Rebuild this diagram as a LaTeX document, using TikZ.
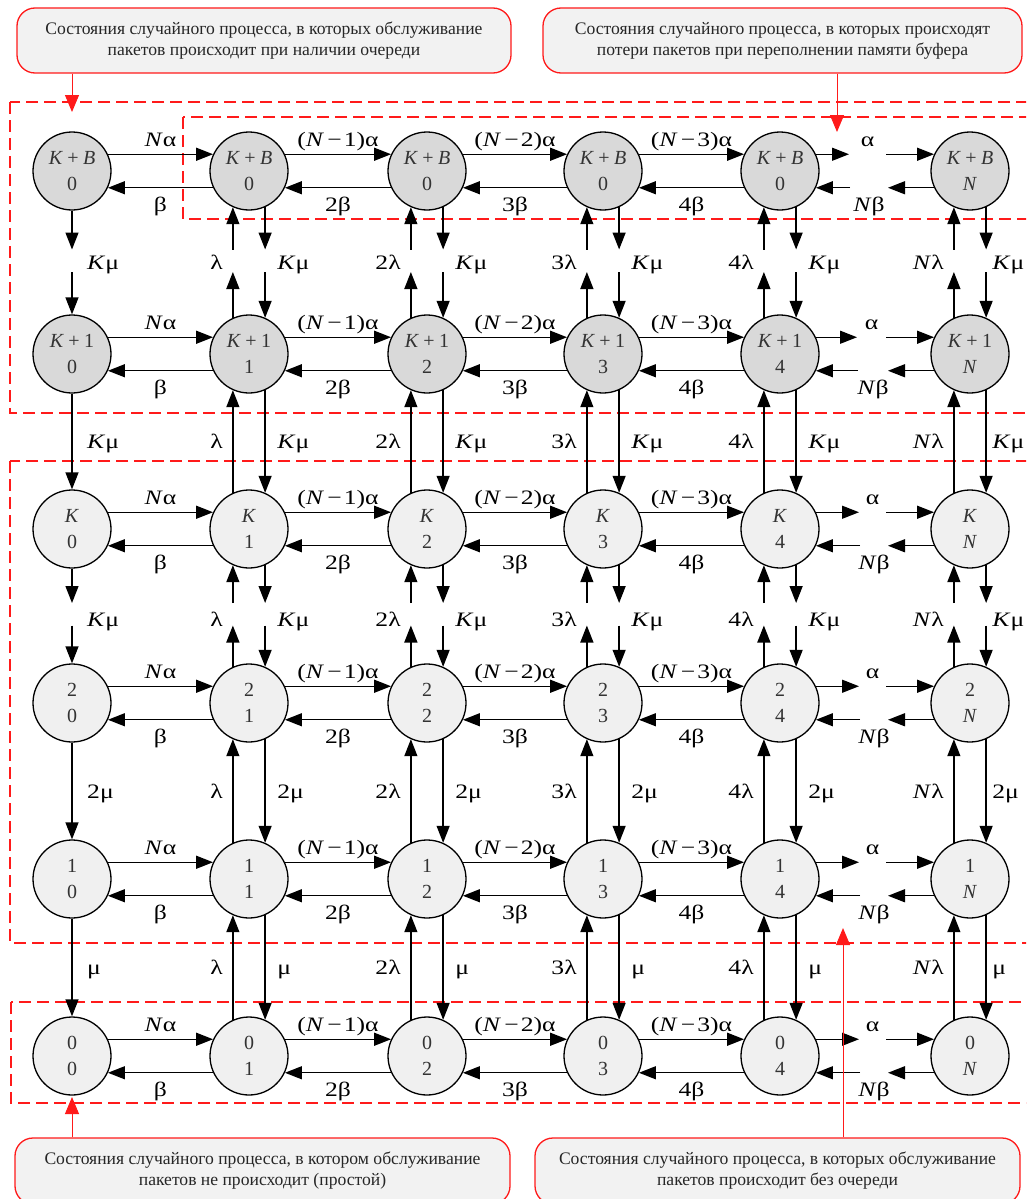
\documentclass[tikz,border=0pt]{standalone}
\usepackage{fontspec}
\setmainfont{Liberation Serif}
\newfontfamily\labfont{Liberation Serif}[FakeStretch=1.25]
\usetikzlibrary{arrows.meta,calc}
\definecolor{darkfill}{HTML}{D9D9D9}
\definecolor{lightfill}{HTML}{F0F0F0}
\definecolor{callfill}{HTML}{F2F2F2}
\definecolor{redline}{HTML}{FF1A1A}
\begin{document}
\begin{tikzpicture}[x=1pt,y=-1pt,
  state/.style={circle,draw=black,line width=1.3pt,minimum size=78pt,inner sep=0pt,align=center,font=\fontsize{20}{26}\selectfont,text=black!80},
  dstate/.style={state,fill=darkfill},
  lstate/.style={state,fill=lightfill},
  arr/.style={line width=1.35pt,-{Triangle[length=17pt,width=13pt]}},
  elab/.style={font=\labfont\fontsize{20.5}{22}\selectfont,inner sep=0pt},
  redbox/.style={draw=redline,line width=1.3pt,dash pattern=on 12pt off 6pt},
  callout/.style={draw=redline,line width=1.3pt,fill=callfill,rounded corners=18pt,align=center,font=\fontsize{17.6}{21}\selectfont,text=black!85,inner sep=0pt},
  redarr/.style={draw=redline,line width=1pt,-{Triangle[length=17pt,width=14pt]},fill=redline}
]
\useasboundingbox (0,0) rectangle (1026,1199);
\clip (0,0) rectangle (1026,1199);

% dashed groups
\draw[redbox] (10,102) rectangle (1045,413);
\draw[redbox] (183,117) rectangle (1045,219);
\draw[redbox] (10,461) rectangle (1045,943);
\draw[redbox] (11,1002) rectangle (1045,1103);

% states
\foreach \ri/\yy/\sty/\ta in {1/171/dstate/{\textit{K}\hspace{.22em}+\hspace{.22em}\textit{B}},2/354/dstate/{\textit{K}\hspace{.22em}+\hspace{.22em}1},3/529/lstate/{\textit{K}},4/703/lstate/2,5/879/lstate/1,6/1056/lstate/0}{
  \foreach \ci/\xx/\bb in {0/72/0,1/249/1,2/427/2,3/603/3,4/780/4,5/970/{\textit{N}}}{
    \node[\sty] (n\ri\ci) at (\xx,\yy) {\ta\\\ifnum\ri=1 \ifnum\ci<5 0\else\bb\fi\else\bb\fi};
  }
}

% horizontal transitions
\foreach \ri/\gl in {1/849,2/857,3/859,4/859,5/859,6/859}{
  \foreach \ci/\di/\tl/\bl in {0/1/{\textit{N}α}/β,1/2/{(\textit{N}\hspace{.15em}−\hspace{.1em}1)α}/2β,2/3/{(\textit{N}\hspace{.15em}−\hspace{.1em}2)α}/3β,3/4/{(\textit{N}\hspace{.15em}−\hspace{.1em}3)α}/4β}{
    \draw[arr] (n\ri\ci.25) -- node[elab,midway,anchor=base,yshift=8pt] (ta\ri\ci) {\tl} (n\ri\di.155);
    \draw[arr] (n\ri\di.205) -- node[elab,midway,anchor=base,yshift=-24pt] (tb\ri\ci) {\bl} (n\ri\ci.-25);
  }
  \coordinate (gl\ri) at (\gl,0);
  \coordinate (gr\ri) at (886,0);
  \coordinate (hl\ri) at (\gl+1,0);
  \coordinate (hr\ri) at (888,0);
  \draw[arr] (n\ri4.25) -- (n\ri4.25 -| gl\ri);
  \draw[arr] (n\ri5.155 -| gr\ri) -- (n\ri5.155);
  \draw[arr] (n\ri5.205) -- (n\ri5.205 -| hr\ri);
  \draw[arr] (n\ri4.-25 -| hl\ri) -- (n\ri4.-25);
  \node[elab,anchor=base] (ta\ri4) at ($(n\ri4.25 -| gl\ri)!0.5!(n\ri5.155 -| gr\ri)+(0,-8)$) {α};
  \node[elab,anchor=base] (tb\ri4) at ($(n\ri4.-25 -| hl\ri)!0.5!(n\ri5.205 -| hr\ri)+(0,24)$) {\textit{N}β};
}

% vertical transitions
\foreach \ri/\si/\dl/\brk/\ls in {1/2/{\textit{K}μ}/1/7,2/3/{\textit{K}μ}/0/7,3/4/{\textit{K}μ}/1/10,4/5/2μ/0/7,5/6/μ/0/7}{
  \coordinate (m\ri) at ($(n\ri0.south)!0.5!(n\si0.north)$);
  \coordinate (gt\ri) at ($(m\ri)+(0,-13)$);
  \coordinate (gb\ri) at ($(m\ri)+(0,9.5)$);
  \ifnum\brk=1
    \draw[arr] (n\ri0.south) -- (n\ri0.south |- gt\ri);
    \draw[arr] (n\si0.north |- gb\ri) -- (n\si0.north);
  \else
    \draw[arr] (n\ri0.south) -- (n\si0.north);
  \fi
  \node[elab,anchor=base west] (vd\ri0) at ($(n\ri0.south |- m\ri)+(15,\ls)$) {\dl};
  \foreach \ci/\ul/\dx in {1/λ/12,2/2λ/12,3/3λ/12,4/4λ/12,5/{\textit{N}λ}/6}{
    \ifnum\brk=1
      \draw[arr] (n\si\ci.114) -- (n\si\ci.114 |- gb\ri);
      \draw[arr] (n\ri\ci.-114 |- gt\ri) -- (n\ri\ci.-114);
      \draw[arr] (n\ri\ci.-66) -- (n\ri\ci.-66 |- gt\ri);
      \draw[arr] (n\si\ci.66 |- gb\ri) -- (n\si\ci.66);
    \else
      \draw[arr] (n\si\ci.114) -- (n\ri\ci.-114);
      \draw[arr] (n\ri\ci.-66) -- (n\si\ci.66);
    \fi
    \node[elab,anchor=base east] (vu\ri\ci) at ($(n\ri\ci.-114 |- m\ri)+(-10,\ls)$) {\ul};
    \node[elab,anchor=base west] (vd\ri\ci) at ($(n\ri\ci.-66 |- m\ri)+(\dx,\ls)$) {\dl};
  }
}

% callouts
\node[callout,minimum width=494pt,minimum height=65pt] (c1) at (264,40.5)
  {Состояния случайного процесса, в которых обслуживание\\пакетов происходит при наличии очереди};
\node[callout,minimum width=479pt,minimum height=65pt] (c2) at (782.5,40.5)
  {Состояния случайного процесса, в которых происходят\\потери пакетов при переполнении памяти буфера};
\node[callout,minimum width=495pt,minimum height=66pt] (c3) at (262.5,1171)
  {Состояния случайного процесса, в котором обслуживание\\пакетов не происходит (простой)};
\node[callout,minimum width=485pt,minimum height=66pt] (c4) at (777.5,1171)
  {Состояния случайного процесса, в которых обслуживание\\пакетов происходит без очереди};

\coordinate (p1) at (72,112);
\coordinate (p2) at (837,132);
\coordinate (p3) at (72,1097);
\coordinate (p4) at (843,928);
\draw[redarr] (c1.south -| p1) -- (p1);
\draw[redarr] (c2.south -| p2) -- (p2);
\draw[redarr] (c3.north -| p3) -- (p3);
\draw[redarr] (c4.north -| p4) -- (p4);
\end{tikzpicture}
\end{document}
